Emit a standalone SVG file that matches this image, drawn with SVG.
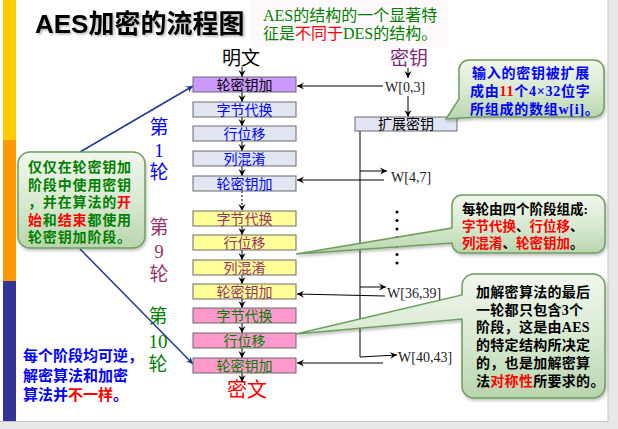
<svg xmlns="http://www.w3.org/2000/svg" width="618" height="429" viewBox="0 0 618 429">
<defs>
<style>
.box{stroke:#6b6b6b;stroke-width:1}
.bt{font-family:"Noto Sans CJK SC",sans-serif;font-size:14px;text-anchor:middle}
.ln{stroke:#000;stroke-width:1;fill:none}
.w{font-family:"Liberation Serif","Noto Sans CJK SC",serif;font-size:14px;fill:#222}
.co{fill:url(#cg);stroke:#6e9e5e;stroke-width:1.5;filter:url(#sh)}
.ct{font-family:"Liberation Serif","Noto Sans CJK SC",serif;font-weight:bold}
.rd{fill:#ff0000}
.rnd{font-family:"Liberation Serif","Noto Sans CJK SC",serif;font-size:19px;text-anchor:middle}
</style>
<linearGradient id="cg" x1="0" y1="0" x2="0" y2="1">
<stop offset="0" stop-color="#f1f7ee"/>
<stop offset="0.55" stop-color="#d6e8cf"/>
<stop offset="1" stop-color="#b9d5ad"/>
</linearGradient>
<filter id="sh" x="-10%" y="-10%" width="130%" height="130%">
<feDropShadow dx="1" dy="2" stdDeviation="1.5" flood-color="#000" flood-opacity="0.25"/>
</filter>
<filter id="ts" x="-5%" y="-20%" width="115%" height="150%">
<feDropShadow dx="1.5" dy="1.5" stdDeviation="1" flood-color="#000" flood-opacity="0.3"/>
</filter>
<marker id="ah" markerWidth="8" markerHeight="8" refX="7" refY="4" orient="auto" markerUnits="userSpaceOnUse">
<path d="M0,0.5 L7,4 L0,7.5 L2.5,4 z" fill="#000"/>
</marker>
<marker id="bh" markerWidth="8" markerHeight="8" refX="7" refY="4" orient="auto" markerUnits="userSpaceOnUse">
<path d="M0,0.5 L7,4 L0,7.5 L2.5,4 z" fill="#1f3a93"/>
</marker>
</defs>

<rect width="618" height="429" fill="#ffffff"/>
<rect x="608" y="0" width="10" height="429" fill="#e8e8e8"/>
<line x1="608" y1="0" x2="608" y2="422" stroke="#c4c4c4" stroke-width="1"/>
<rect x="0" y="422" width="618" height="7" fill="#e8e8e8"/>
<line x1="0" y1="421.5" x2="608" y2="421.5" stroke="#c4c4c4" stroke-width="1"/>
<rect x="250" y="0" width="198" height="47" fill="#fef9fa"/>

<g id="stripe">
<rect x="3" y="0" width="13" height="140" fill="#ffcc00"/>
<rect x="3" y="140" width="13" height="141" fill="#ff9900"/>
<rect x="3" y="281" width="13" height="140" fill="#333399"/>
</g>

<g id="title">
<text x="35" y="33" font-family="Liberation Sans, Noto Sans CJK SC, sans-serif" font-size="26" font-weight="bold" fill="#000" filter="url(#ts)">AES加密的流程图</text>
</g>

<g id="note-top">
<text x="263" y="21" font-family="Liberation Serif, Noto Sans CJK SC, serif" font-size="16" fill="#008000">AES的结构的一个显著特</text>
<text x="263" y="39" font-family="Liberation Serif, Noto Sans CJK SC, serif" font-size="16" fill="#008000">征是<tspan fill="#ff0000">不同于</tspan>DES的结构。</text>
</g>

<g id="plaintext"><text x="241" y="65" font-family="Noto Sans CJK SC, sans-serif" font-size="19" text-anchor="middle" fill="#000">明文</text></g>
<g id="key"><text x="409" y="65" font-family="Noto Sans CJK SC, sans-serif" font-size="19" text-anchor="middle" fill="#7b2c7b">密钥</text></g>
<g id="ciphertext"><text x="247" y="397" font-family="Noto Sans CJK SC, sans-serif" font-size="20" text-anchor="middle" fill="#ff0000">密文</text></g>

<g id="round-labels">
<text class="rnd" fill="#0000ff"><tspan x="159" y="134">第</tspan><tspan x="159" y="157">1</tspan><tspan x="159" y="179">轮</tspan></text>
<text class="rnd" fill="#993366"><tspan x="159" y="234">第</tspan><tspan x="159" y="258">9</tspan><tspan x="159" y="281">轮</tspan></text>
<text class="rnd" fill="#008000"><tspan x="158" y="323">第</tspan><tspan x="158" y="348">10</tspan><tspan x="158" y="371">轮</tspan></text>
</g>

<g id="connectors">
<line class="ln" x1="242" y1="67" x2="242" y2="77" marker-end="url(#ah)"/>
<line class="ln" x1="242" y1="92" x2="242" y2="102" marker-end="url(#ah)"/>
<line class="ln" x1="242" y1="117" x2="242" y2="126" marker-end="url(#ah)"/>
<line class="ln" x1="242" y1="141" x2="242" y2="151" marker-end="url(#ah)"/>
<line class="ln" x1="242" y1="166" x2="242" y2="176" marker-end="url(#ah)"/>
<line class="ln" x1="242" y1="191" x2="242" y2="211" stroke-dasharray="2,2" marker-end="url(#ah)"/>
<line class="ln" x1="242" y1="226" x2="242" y2="235" marker-end="url(#ah)"/>
<line class="ln" x1="242" y1="250" x2="242" y2="260" marker-end="url(#ah)"/>
<line class="ln" x1="242" y1="275" x2="242" y2="284" marker-end="url(#ah)"/>
<line class="ln" x1="242" y1="299" x2="242" y2="308" marker-end="url(#ah)"/>
<line class="ln" x1="242" y1="323" x2="242" y2="333" marker-end="url(#ah)"/>
<line class="ln" x1="242" y1="348" x2="242" y2="358" marker-end="url(#ah)"/>
<line class="ln" x1="242" y1="373" x2="242" y2="382" marker-end="url(#ah)"/>

<line class="ln" x1="408" y1="68" x2="408" y2="78" marker-end="url(#ah)"/>
<line class="ln" x1="408" y1="96" x2="408" y2="117" marker-end="url(#ah)"/>
<line class="ln" x1="383" y1="86" x2="297" y2="86" marker-end="url(#ah)"/>
<polyline class="ln" points="360,131 360,357 397,355" marker-end="url(#ah)"/>
<line class="ln" x1="360" y1="171" x2="387" y2="171" marker-end="url(#ah)"/>
<line class="ln" x1="384" y1="180" x2="297" y2="180" marker-end="url(#ah)"/>
<line class="ln" x1="360" y1="287" x2="386" y2="287" marker-end="url(#ah)"/>
<line class="ln" x1="385" y1="296" x2="297" y2="294" marker-end="url(#ah)"/>
<line class="ln" x1="383" y1="363" x2="297" y2="363" marker-end="url(#ah)"/>

<line x1="80" y1="152" x2="193" y2="86" stroke="#1f3a93" stroke-width="1.5" marker-end="url(#bh)"/>
<line x1="80" y1="249" x2="193" y2="364" stroke="#1f3a93" stroke-width="1.5" marker-end="url(#bh)"/>

<g fill="#000">
<circle cx="397" cy="212" r="1.5"/><circle cx="397" cy="220.5" r="1.5"/><circle cx="397" cy="229" r="1.5"/><circle cx="397" cy="237.5" r="1.5"/><circle cx="397" cy="246" r="1.5"/><circle cx="397" cy="254.5" r="1.5"/><circle cx="397" cy="263" r="1.5"/>
</g>
</g>

<g id="w-labels">
<text class="w" x="385" y="92">W[0,3]</text>
<text class="w" x="391" y="182">W[4,7]</text>
<text class="w" x="387" y="298">W[36,39]</text>
<text class="w" x="398" y="362">W[40,43]</text>
</g>

<g id="expand"><rect class="box" x="355" y="117" width="102" height="14" fill="#dfe5f2"/><text class="bt" x="406" y="129" fill="#000">扩展密钥</text></g>

<g id="r1-ark"><rect class="box" x="193" y="77" width="103" height="15" fill="#cc99ff"/><text class="bt" x="244.5" y="89.5" fill="#000">轮密钥加</text></g>
<g id="r1-sb"><rect class="box" x="193" y="102" width="103" height="15" fill="#e1e6f2"/><text class="bt" x="244.5" y="114.5" fill="#0000ff">字节代换</text></g>
<g id="r1-sr"><rect class="box" x="193" y="126" width="103" height="15" fill="#e1e6f2"/><text class="bt" x="244.5" y="138.5" fill="#0000ff">行位移</text></g>
<g id="r1-mc"><rect class="box" x="193" y="151" width="103" height="15" fill="#e1e6f2"/><text class="bt" x="244.5" y="163.5" fill="#0000ff">列混淆</text></g>
<g id="r1-ark2"><rect class="box" x="193" y="176" width="103" height="15" fill="#e1e6f2"/><text class="bt" x="244.5" y="188.5" fill="#0000ff">轮密钥加</text></g>
<g id="r9-sb"><rect class="box" x="193" y="211" width="103" height="15" fill="#ffff99"/><text class="bt" x="244.5" y="223.5" fill="#993366">字节代换</text></g>
<g id="r9-sr"><rect class="box" x="193" y="235" width="103" height="15" fill="#ffff99"/><text class="bt" x="244.5" y="247.5" fill="#993366">行位移</text></g>
<g id="r9-mc"><rect class="box" x="193" y="260" width="103" height="15" fill="#ffff99"/><text class="bt" x="244.5" y="272.5" fill="#993366">列混淆</text></g>
<g id="r9-ark"><rect class="box" x="193" y="284" width="103" height="15" fill="#ffff99"/><text class="bt" x="244.5" y="296.5" fill="#993366">轮密钥加</text></g>
<g id="r10-sb"><rect class="box" x="193" y="308" width="103" height="15" fill="#ff99cc"/><text class="bt" x="244.5" y="320.5" fill="#008000">字节代换</text></g>
<g id="r10-sr"><rect class="box" x="193" y="333" width="103" height="15" fill="#ff99cc"/><text class="bt" x="244.5" y="345.5" fill="#008000">行位移</text></g>
<g id="r10-ark"><rect class="box" x="193" y="358" width="103" height="15" fill="#ff99cc"/><text class="bt" x="244.5" y="370.5" fill="#008000">轮密钥加</text></g>

<g id="callout-key">
<path class="co" d="M469,60 H594 A10,10 0 0 1 604,70 V107 A10,10 0 0 1 594,117 H478 L446,119 L459,99 V70 A10,10 0 0 1 469,60 Z"/>
<text class="ct" font-size="14" fill="#0000ff" letter-spacing="0.75"><tspan x="472" y="78">输入的密钥被扩展</tspan><tspan x="470" y="96">成由<tspan class="rd">11</tspan>个4×32位字</tspan><tspan x="470" y="114">所组成的数组w[i]。</tspan></text>
</g>

<g id="callout-left">
<rect class="co" x="18" y="152" width="127" height="96" rx="12"/>
<text class="ct" font-size="14" fill="#008000" letter-spacing="0.85"><tspan x="28" y="172">仅仅在轮密钥加</tspan><tspan x="28" y="190">阶段中使用密钥</tspan><tspan x="28" y="207">，并在算法的<tspan class="rd">开</tspan></tspan><tspan x="28" y="225"><tspan class="rd">始</tspan>和<tspan class="rd">结束</tspan>都使用</tspan><tspan x="28" y="242">轮密钥加阶段。</tspan></text>
</g>

<g id="callout-stages">
<path class="co" d="M462,195 H595 A10,10 0 0 1 605,205 V243 A10,10 0 0 1 595,253 H462 A10,10 0 0 1 452,243 L296,254 L452,228 V205 A10,10 0 0 1 462,195 Z"/>
<text class="ct" font-size="13.5" fill="#000"><tspan x="462" y="214">每轮由四个阶段组成:</tspan><tspan x="462" y="231"><tspan class="rd">字节代换</tspan>、<tspan class="rd">行位移</tspan>、</tspan><tspan x="462" y="248"><tspan class="rd">列混淆</tspan>、<tspan class="rd">轮密钥加</tspan>。</tspan></text>
</g>

<g id="callout-last">
<path class="co" d="M474,274 H593 A12,12 0 0 1 605,286 V386 A12,12 0 0 1 593,398 H474 A12,12 0 0 1 462,386 V319 L296,334 L462,295 V286 A12,12 0 0 1 474,274 Z"/>
<text class="ct" font-size="14" fill="#000" letter-spacing="0.3"><tspan x="476" y="297">加解密算法的最后</tspan><tspan x="476" y="315">一轮都只包含3个</tspan><tspan x="476" y="332">阶段，这是由AES</tspan><tspan x="476" y="350">的特定结构所决定</tspan><tspan x="476" y="368">的，也是加解密算</tspan><tspan x="476" y="386">法<tspan class="rd">对称性</tspan>所要求的。</tspan></text>
</g>

<g id="note-bottom">
<text class="ct" font-size="15" fill="#0000ff"><tspan x="23" y="361">每个阶段均可逆，</tspan><tspan x="23" y="381">解密算法和加密</tspan><tspan x="23" y="400">算法并<tspan class="rd">不一样</tspan>。</tspan></text>
</g>
</svg>
